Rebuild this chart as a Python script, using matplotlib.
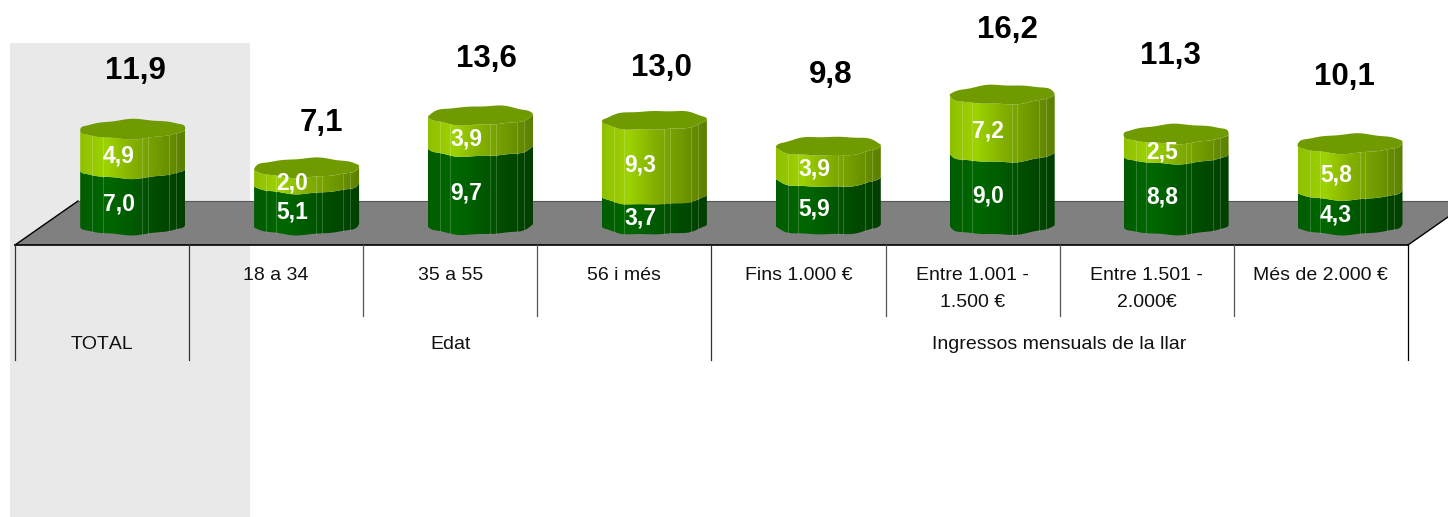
import numpy as np
import matplotlib
matplotlib.use('Agg')
import matplotlib.pyplot as plt
from matplotlib.colors import LinearSegmentedColormap
from matplotlib.patches import Polygon, Rectangle

plt.rcParams['font.family'] = ['Liberation Sans', 'DejaVu Sans']
plt.rcParams['text.kerning_factor'] = 6

categories = ['', '18 a 34', '35 a 55', '56 i més', 'Fins 1.000 €', 'Entre 1.001 -\n1.500 €',
              'Entre 1.501 -\n2.000€', 'Més de 2.000 €']
groups = [('TOTAL', 0, 0), ('Edat', 1, 3), ('Ingressos mensuals de la llar', 4, 7)]
dark_values = [7.0, 5.1, 9.7, 3.7, 5.9, 9.0, 8.8, 4.3]
light_values = [4.9, 2.0, 3.9, 9.3, 3.9, 7.2, 2.5, 5.8]
totals = [11.9, 7.1, 13.6, 13.0, 9.8, 16.2, 11.3, 10.1]
# the total labels sit unevenly above the bars in the original
total_dx = [3, 15, 6, 7, 2, 5, -6, -6]
total_dy = [58, 45, 57, 52, 71, 65, 78, 67]

W, H = 1448, 517
X0, STEP = 132.7, 173.9   # pixel x of first bar, bar spacing
Y0, PPU = 225.0, 8.05     # pixel y of value 0, pixels per unit
HALF_W = 52.5 / STEP
SEMI_H = 9.5 / PPU
TILT = 1 / PPU
T0, TSTEP = 15.0, 174.1   # pixel x of first table line, cell width

dark_cmap = LinearSegmentedColormap.from_list('d', ['#005c00', '#006800', '#005a00', '#004a00', '#003f00'])
light_cmap = LinearSegmentedColormap.from_list('l', ['#8fc000', '#9ed300', '#84b000', '#6f9a00', '#5c7f00'])
grad = np.linspace(0, 1, 256).reshape(1, -1)

fig = plt.figure(figsize=(W / 100, H / 100), dpi=100)

# frame: background, floor, table
bg = fig.add_axes([0, 0, 1, 1], zorder=0)
bg.set_xlim(0, W)
bg.set_ylim(H, 0)
bg.axis('off')
bg.add_patch(Rectangle((10, 43), 240, 474, fc='#e9e9e9', ec='none'))
bg.add_patch(Polygon([(15, 245), (78, 201), (1471, 201), (1408, 245)], fc='#808080', ec='none'))
bg.plot([15, 78], [245, 201], color='black', lw=1)
bg.plot([78, W], [201, 201], color='#555555', lw=0.8)
bg.plot([15, 1408], [245, 245], color='black', lw=1.2)
bg.plot([1408, 1448], [245, 217], color='black', lw=1)

ax = fig.add_axes([0, 0, 1, 1], zorder=1)
ax.patch.set_alpha(0)
ax.axis('off')
ax.set_xlim(-X0 / STEP, (W - X0) / STEP)
ax.set_ylim((Y0 - H) / PPU, Y0 / PPU)


def lump(t, i):
    # rough outline of the low-poly cylinders
    return 0.07 * np.sin(5 * t + i) + 0.05 * np.sin(9 * t + 2 * i)


def edge(i, v, front=True):
    t = np.linspace(np.pi, 2 * np.pi, 60) if front else np.linspace(0, np.pi, 60)
    x = i + HALF_W * np.cos(t)
    y = v + SEMI_H * np.sin(t) + TILT * np.cos(t) + lump(t, i)
    return x, y


def segment(i, lo, hi, cmap):
    xb, yb = edge(i, lo)
    xt, yt = edge(i, hi)
    poly = Polygon(np.column_stack([np.r_[xb, xt[::-1]], np.r_[yb, yt[::-1]]]), fc='none', ec='none')
    ax.add_patch(poly)
    im = ax.imshow(grad, cmap=cmap, aspect='auto', zorder=2,
                   extent=[i - HALF_W, i + HALF_W, lo - SEMI_H - 1, hi + SEMI_H + 1])
    im.set_clip_path(poly)
    for dx in [-40, -31, 10, 16, 37, 43]:
        k = np.argmin(np.abs(xb - (i + dx / STEP)))
        ax.plot([xb[k], xb[k]], [yb[k], yt[k]], color='white', alpha=0.2, lw=0.7, zorder=3)


for i in range(len(categories)):
    d = dark_values[i]
    top = d + light_values[i]
    segment(i, 0, d, dark_cmap)
    segment(i, d, top, light_cmap)
    xf, yf = edge(i, top)
    xk, yk = edge(i, top, front=False)
    ax.add_patch(Polygon(np.column_stack([np.r_[xf, xk], np.r_[yf, yk]]), fc='#6f9a00', ec='none', zorder=4))

    # white segment values
    lab_x = i - 14 / STEP
    lab_drop = 7.5 / PPU
    ax.text(lab_x, d / 2 - lab_drop, f'{d:.1f}'.replace('.', ','), color='white', fontsize=16.5, fontweight='bold',
            ha='center', va='center', zorder=5)
    ax.text(lab_x, d + light_values[i] / 2 - lab_drop, f'{light_values[i]:.1f}'.replace('.', ','), color='white',
            fontsize=16.5, fontweight='bold', ha='center', va='center', zorder=5)
    ax.annotate(f'{totals[i]:.1f}'.replace('.', ','), (i, totals[i]), xytext=(total_dx[i], total_dy[i]),
                textcoords='offset pixels', fontsize=22.5, fontweight='bold', ha='center', va='center',
                color='black', zorder=5)


def cell_x(i):
    # bar index -> table cell centre, in bar axis units
    return (T0 + TSTEP * (i + 0.5) - X0) / STEP


row1_y = (Y0 - 276) / PPU
row1b_y = (Y0 - 289) / PPU
row2_y = (Y0 - 345) / PPU
for i, c in enumerate(categories):
    if c:
        ax.text(cell_x(i), row1b_y if '\n' in c else row1_y, c, fontsize=14, ha='center', va='center',
                linespacing=1.75, color='#111111', zorder=5)
        if i not in (1, 4):
            bg.plot([T0 + TSTEP * i] * 2, [245, 316], color='#555555', lw=0.9)
for name, a, b in groups:
    ax.text((cell_x(a) + cell_x(b)) / 2, row2_y, name, fontsize=14, ha='center', va='center', color='#111111', zorder=5)
    bg.plot([T0 + TSTEP * a] * 2, [245, 360], color='#333333', lw=0.9)
bg.plot([T0 + TSTEP * 8] * 2, [245, 360], color='black', lw=0.9)

fig.savefig('out.png', dpi=100)
